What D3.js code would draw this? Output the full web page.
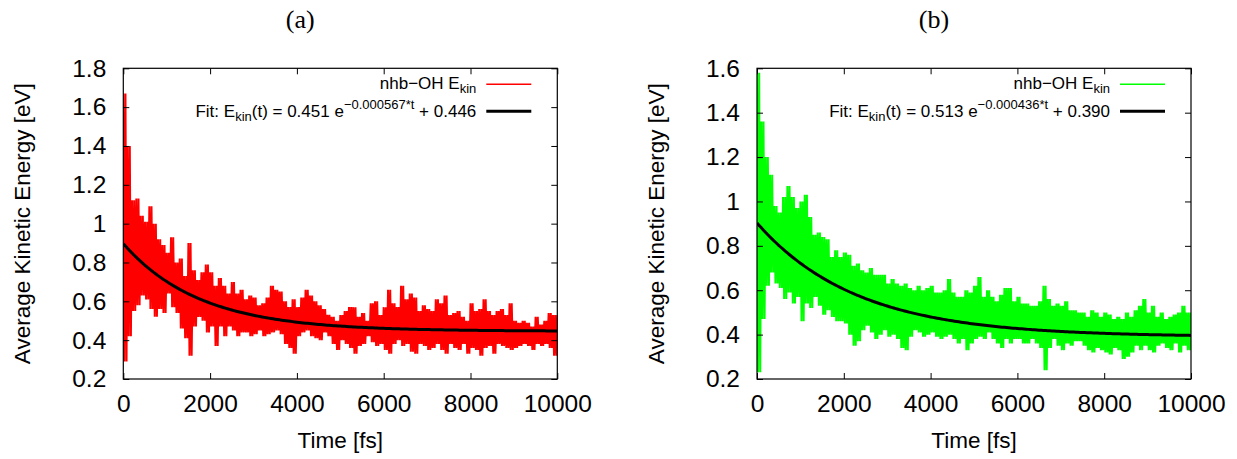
<!DOCTYPE html>
<html>
<head>
<meta charset="utf-8">
<script src="https://cdn.jsdelivr.net/npm/d3@7"></script>
<style>
  body { margin: 0; background: #fff; }
  svg { display: block; }
  text { font-family: "Liberation Sans", Arial, sans-serif; }
</style>
</head>
<body>
<svg id="chart" width="1237" height="459"></svg>
<script>
// Sample grid (fs) for the envelope readings
const timeSteps = d3.range(0, 10000, 100);

// Panel (a): upper / lower extent of the E_kin trace in each 100 fs slot
const hiA = [1.67,1.40,1.12,1.13,1.04,1.01,1.09,1.00,0.92,0.89,
  0.85,0.93,0.80,0.82,0.73,0.90,0.76,0.71,0.75,0.79,
  0.75,0.68,0.72,0.68,0.64,0.70,0.64,0.66,0.61,0.63,
  0.62,0.58,0.59,0.62,0.68,0.66,0.65,0.60,0.57,0.61,
  0.57,0.62,0.66,0.63,0.60,0.58,0.56,0.53,0.52,0.50,
  0.53,0.55,0.57,0.57,0.52,0.54,0.50,0.59,0.60,0.53,
  0.57,0.66,0.59,0.57,0.68,0.61,0.64,0.62,0.55,0.58,
  0.56,0.55,0.61,0.59,0.63,0.53,0.54,0.55,0.52,0.50,
  0.59,0.55,0.56,0.61,0.55,0.53,0.55,0.56,0.53,0.59,
  0.50,0.49,0.50,0.49,0.47,0.52,0.48,0.50,0.54,0.53];
const loA = [0.29,0.42,0.55,0.58,0.63,0.61,0.56,0.52,0.56,0.54,
  0.64,0.57,0.54,0.46,0.41,0.32,0.47,0.52,0.50,0.44,
  0.47,0.37,0.47,0.42,0.47,0.45,0.42,0.44,0.44,0.42,
  0.43,0.45,0.42,0.43,0.44,0.45,0.43,0.38,0.36,0.33,
  0.42,0.44,0.45,0.42,0.41,0.40,0.44,0.42,0.38,0.35,
  0.40,0.38,0.36,0.33,0.37,0.38,0.42,0.39,0.37,0.38,
  0.35,0.33,0.38,0.40,0.37,0.38,0.34,0.33,0.38,0.37,
  0.35,0.36,0.38,0.35,0.33,0.38,0.36,0.35,0.38,0.33,
  0.36,0.35,0.32,0.36,0.37,0.33,0.38,0.37,0.36,0.35,
  0.36,0.37,0.38,0.37,0.35,0.38,0.37,0.38,0.36,0.32];

// Panel (b)
const hiB = [1.58,1.36,1.20,1.12,0.98,0.95,1.02,1.07,1.02,0.97,
  1.00,1.03,0.93,0.85,0.86,0.84,0.83,0.75,0.78,0.75,
  0.77,0.76,0.71,0.72,0.69,0.68,0.70,0.67,0.67,0.67,
  0.63,0.65,0.63,0.62,0.63,0.61,0.60,0.62,0.60,0.61,
  0.62,0.59,0.59,0.60,0.65,0.59,0.57,0.57,0.60,0.59,
  0.62,0.66,0.57,0.60,0.57,0.55,0.58,0.61,0.61,0.55,
  0.57,0.54,0.54,0.53,0.53,0.55,0.62,0.56,0.53,0.54,
  0.53,0.55,0.51,0.51,0.50,0.50,0.48,0.51,0.50,0.48,
  0.50,0.49,0.47,0.48,0.47,0.50,0.48,0.51,0.53,0.56,
  0.50,0.53,0.48,0.50,0.47,0.48,0.49,0.50,0.53,0.50];
const loB = [0.23,0.47,0.62,0.68,0.63,0.61,0.56,0.59,0.54,0.57,
  0.46,0.54,0.52,0.57,0.53,0.49,0.51,0.48,0.46,0.46,
  0.45,0.40,0.35,0.37,0.42,0.44,0.41,0.38,0.40,0.42,
  0.39,0.40,0.38,0.34,0.33,0.39,0.42,0.41,0.39,0.40,
  0.41,0.39,0.38,0.39,0.40,0.38,0.36,0.38,0.33,0.36,
  0.38,0.39,0.38,0.41,0.38,0.36,0.34,0.38,0.36,0.38,
  0.38,0.36,0.36,0.38,0.36,0.34,0.24,0.34,0.38,0.35,
  0.33,0.36,0.35,0.37,0.37,0.35,0.33,0.32,0.34,0.33,
  0.32,0.31,0.34,0.33,0.29,0.30,0.32,0.35,0.33,0.35,
  0.33,0.32,0.35,0.36,0.34,0.33,0.36,0.32,0.35,0.33];

// Fit parameters [amplitude, rate, offset] as printed in the legends
const fitA = [0.451, 0.000567, 0.446];
const fitB = [0.513, 0.000436, 0.390];

// Tick values
const xTicks = [0, 2000, 4000, 6000, 8000, 10000];
const yTicksA = [0.2, 0.4, 0.6, 0.8, 1.0, 1.2, 1.4, 1.6, 1.8];
const yTicksB = [0.2, 0.4, 0.6, 0.8, 1.0, 1.2, 1.4, 1.6];

const svg = d3.select("#chart");
const tickFont = 24.5;
const titleFont = 22.5;
const tickLen = 6;

function drawPanel(p) {
  const x = d3.scaleLinear().domain([0, 10000]).range([p.left, p.right]);
  const y = d3.scaleLinear().domain([0.2, p.yMax]).range([p.bottom, p.top]);

  // Panel title
  svg.append("text")
    .attr("x", (p.left + p.right) / 2 - 40)
    .attr("y", 28)
    .attr("text-anchor", "middle")
    .style("font-family", '"Liberation Serif", "DejaVu Serif", serif')
    .style("font-size", "26px")
    .text(p.title);

  // Clip for the traces
  svg.append("clipPath").attr("id", "clip-" + p.id)
    .append("rect")
    .attr("x", p.left).attr("y", p.top)
    .attr("width", p.right - p.left).attr("height", p.bottom - p.top);

  const trace = svg.append("g").attr("clip-path", `url(#clip-${p.id})`);

  // Noisy E_kin trace: swings between upper and lower readings of each slot
  const pts = [];
  timeSteps.forEach((t, i) => {
    pts.push([t, p.hi[i]]);
    pts.push([t + 25, p.lo[i]]);
    pts.push([t + 50, p.hi[i]]);
    pts.push([t + 75, p.lo[i]]);
  });
  pts.push([10000, p.hi[p.hi.length - 1]]);

  const line = d3.line().x((d) => x(d[0])).y((d) => y(d[1]));

  trace.append("path")
    .attr("d", line(pts))
    .attr("fill", "none")
    .attr("stroke", p.color)
    .attr("stroke-width", 2);

  // Exponential fit
  const fitPts = d3.range(0, 10001, 50).map((t) => [t, p.fit[0] * Math.exp(-p.fit[1] * t) + p.fit[2]]);
  trace.append("path")
    .attr("d", line(fitPts))
    .attr("fill", "none")
    .attr("stroke", "#000")
    .attr("stroke-width", 3);

  // Axes (ticks point inward, mirrored on top/right)
  const styleAxis = (g) => {
    g.select(".domain").remove();
    g.selectAll("line").attr("stroke", "#000");
    g.selectAll("text")
      .attr("fill", "#000")
      .style("font-family", '"Liberation Sans", Arial, sans-serif')
      .style("font-size", tickFont + "px");
  };

  svg.append("g")
    .attr("transform", `translate(0,${p.bottom})`)
    .call(d3.axisBottom(x).tickValues(xTicks).tickFormat(d3.format("d"))
      .tickSizeInner(-tickLen).tickSizeOuter(0).tickPadding(16))
    .call(styleAxis);
  svg.append("g")
    .attr("transform", `translate(0,${p.top})`)
    .call(d3.axisTop(x).tickValues(xTicks).tickFormat("")
      .tickSizeInner(-tickLen).tickSizeOuter(0))
    .call(styleAxis);
  svg.append("g")
    .attr("transform", `translate(${p.left},0)`)
    .call(d3.axisLeft(y).tickValues(p.yTicks).tickFormat((v) => String(+v.toFixed(1)))
      .tickSizeInner(-tickLen).tickSizeOuter(0).tickPadding(17))
    .call(styleAxis);
  svg.append("g")
    .attr("transform", `translate(${p.right},0)`)
    .call(d3.axisRight(y).tickValues(p.yTicks).tickFormat("")
      .tickSizeInner(-tickLen).tickSizeOuter(0))
    .call(styleAxis);

  // Frame
  svg.append("rect")
    .attr("x", p.left).attr("y", p.top)
    .attr("width", p.right - p.left).attr("height", p.bottom - p.top)
    .attr("fill", "none")
    .attr("stroke", "#000")
    .attr("stroke-width", 1.2);

  // Axis titles
  svg.append("text")
    .attr("transform", `translate(${p.yLabelX},${(p.top + p.bottom) / 2}) rotate(-90)`)
    .attr("text-anchor", "middle")
    .attr("dy", "0.35em")
    .style("font-size", titleFont + "px")
    .text("Average Kinetic Energy [eV]");

  svg.append("text")
    .attr("x", (p.left + p.right) / 2)
    .attr("y", 448)
    .attr("text-anchor", "middle")
    .style("font-size", titleFont + "px")
    .text("Time [fs]");

  // Legend
  const legX = p.right - 81;
  const l1 = svg.append("text")
    .attr("x", legX).attr("y", p.top + 21)
    .attr("text-anchor", "end")
    .style("font-size", "17px");
  l1.append("tspan").text("nhb\u2212OH E");
  l1.append("tspan").attr("dy", 4).style("font-size", "13px").text("kin");

  svg.append("line")
    .attr("x1", p.right - 71).attr("x2", p.right - 26)
    .attr("y1", p.top + 16).attr("y2", p.top + 16)
    .attr("stroke", p.color).attr("stroke-width", 1.5);

  const l2 = svg.append("text")
    .attr("x", legX).attr("y", p.top + 48.5)
    .attr("text-anchor", "end")
    .style("font-size", "17px");
  l2.append("tspan").text("Fit: E");
  l2.append("tspan").attr("dy", 4).style("font-size", "13px").text("kin");
  l2.append("tspan").attr("dy", -4).text(`(t) = ${p.fit[0].toFixed(3)} e`);
  l2.append("tspan").attr("dy", -8).style("font-size", "13px").text(`\u2212${p.fit[1].toFixed(6)}*t`);
  l2.append("tspan").attr("dy", 8).text(` + ${p.fit[2].toFixed(3)}`);

  svg.append("line")
    .attr("x1", p.right - 71).attr("x2", p.right - 26)
    .attr("y1", p.top + 43).attr("y2", p.top + 43)
    .attr("stroke", "#000").attr("stroke-width", 3);
}

drawPanel({
  id: "a", title: "(a)", left: 123.3, right: 557.3, top: 68.3, bottom: 379,
  yMax: 1.8, yTicks: yTicksA, hi: hiA, lo: loA, fit: fitA,
  color: "#ff0000", yLabelX: 22.5
});
drawPanel({
  id: "b", title: "(b)", left: 757, right: 1191, top: 68.3, bottom: 379,
  yMax: 1.6, yTicks: yTicksB, hi: hiB, lo: loB, fit: fitB,
  color: "#00ff00", yLabelX: 656
});
</script>
</body>
</html>
